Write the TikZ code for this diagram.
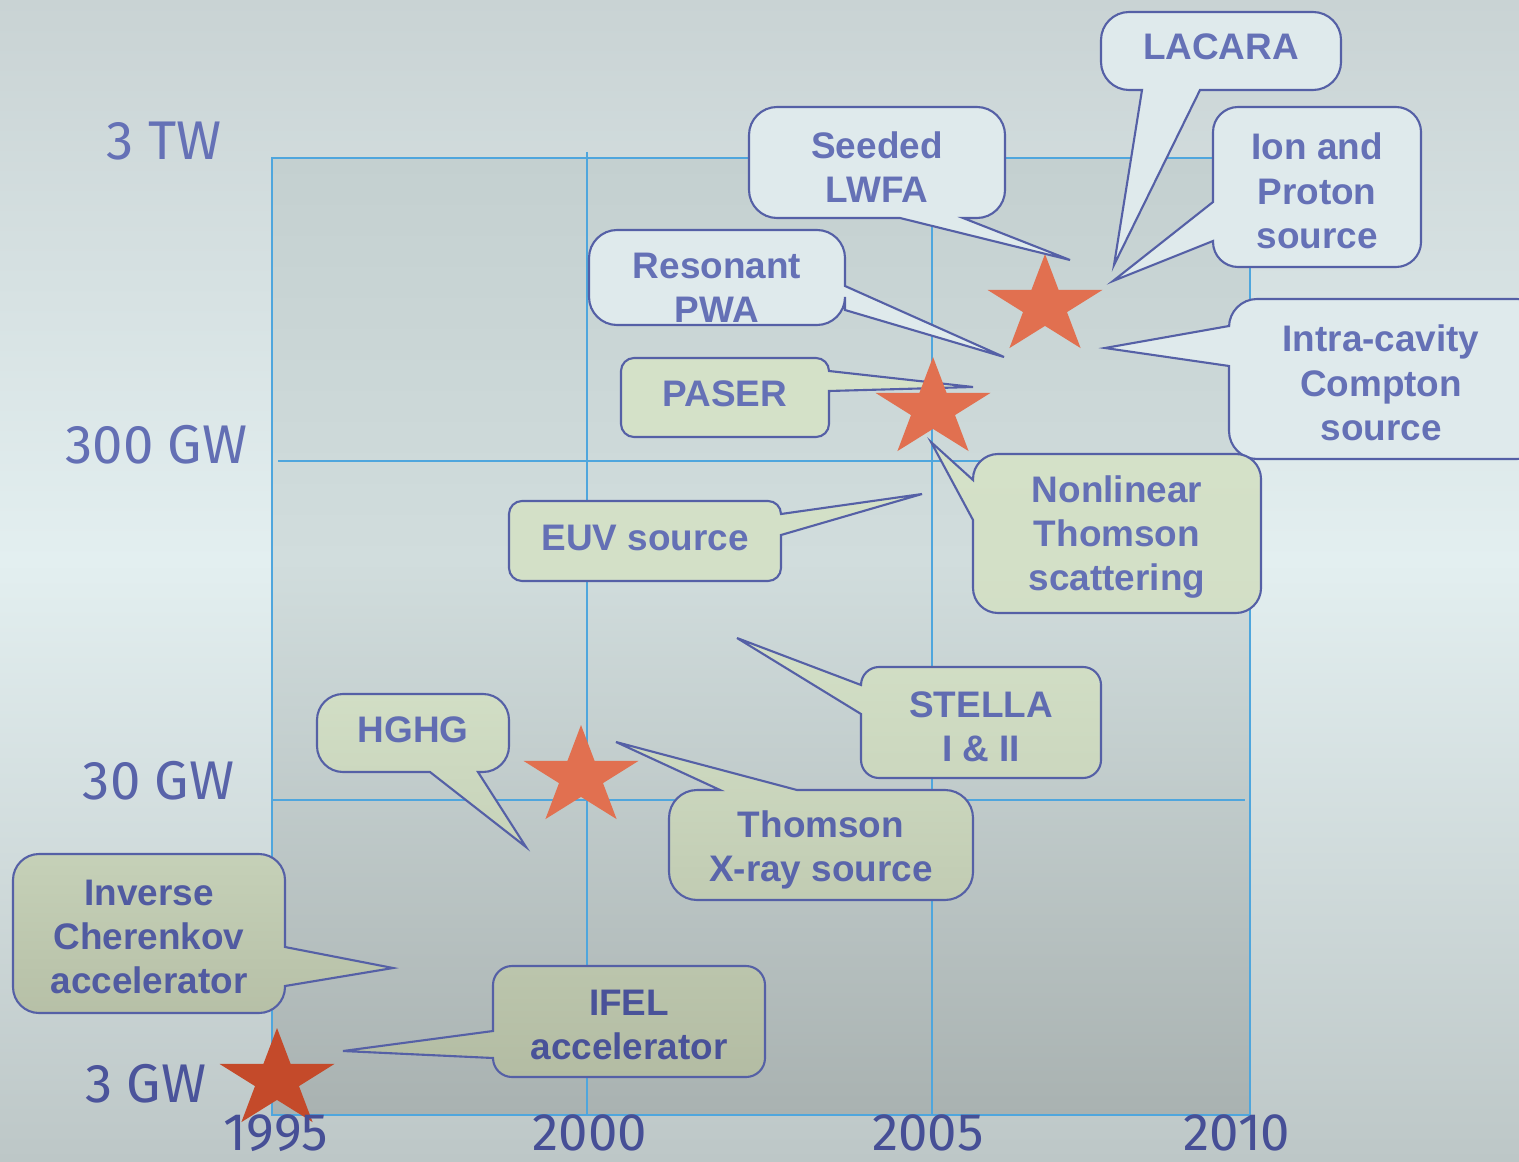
\documentclass[tikz,border=0pt]{standalone}
\usepackage{fontspec}
\setmainfont{Liberation Sans}
\newfontfamily\axisfont{Fira Sans}
\definecolor{bgtop}{HTML}{C9D3D4}
\definecolor{bgmid}{HTML}{E3EFF0}
\definecolor{bgbot}{HTML}{BDC7C7}
\definecolor{pltop}{HTML}{C4D0D0}
\definecolor{plmid}{HTML}{D1DDDD}
\definecolor{plbot}{HTML}{A9B2B1}
\definecolor{gridc}{HTML}{4FA6DD}
\definecolor{cb}{HTML}{5560A6}
\definecolor{cblue}{HTML}{DFEAEC}
\definecolor{gtop}{HTML}{D4E1C8}
\definecolor{gbot}{HTML}{B3BCA3}
\definecolor{txt}{HTML}{6571B6}
\definecolor{txb}{HTML}{464F96}
\definecolor{starc}{HTML}{E17050}
\definecolor{stard}{HTML}{C44A2A}
\def\crad{28}
\newcommand\callout[9]{%
\draw[#1] ({#2+\crad},#3) #6 -- ({#4-\crad},#3)
 .. controls ({#4-0.45*\crad},#3) and (#4,{#3+0.45*\crad}) .. (#4,{#3+\crad}) #7
 -- (#4,{#5-\crad})
 .. controls (#4,{#5-0.45*\crad}) and ({#4-0.45*\crad},#5) .. ({#4-\crad},#5) #8
 -- ({#2+\crad},#5)
 .. controls ({#2+0.45*\crad},#5) and (#2,{#5-0.45*\crad}) .. (#2,{#5-\crad}) #9
 -- (#2,{#3+\crad})
 .. controls (#2,{#3+0.45*\crad}) and ({#2+0.45*\crad},#3) .. ({#2+\crad},#3) -- cycle;}
\newcommand\starat[3]{%
\fill[#3, shift={(#1,#2)}] (0,-52) -- (13.6,-16.1) -- (57.5,-16.1) -- (22,6.1) -- (35.6,42.1)
 -- (0,19.9) -- (-35.6,42.1) -- (-22,6.1) -- (-57.5,-16.1) -- (-13.6,-16.1) -- cycle;}
\tikzset{
  bc/.style={draw=cb, line width=0.6pt, fill=cblue},
  gc/.style 2 args={draw=cb, line width=0.6pt, top color=gbot!#1!gtop, bottom color=gbot!#2!gtop},
  ct/.style={font=\bfseries\fontsize{10.5}{12.6}\selectfont, align=center, text=txb!#1!txt, inner sep=0pt},
  ax/.style={font=\axisfont\fontsize{15.5}{18}\selectfont, text=txb!#1!txt, inner sep=0pt, anchor=base east},
  yr/.style={font=\axisfont\fontsize{15}{18}\selectfont, text=txb!#1!txt, inner sep=0pt, anchor=base},
  gridl/.style={draw=gridc, line width=0.5pt}
}
\begin{document}
\begin{tikzpicture}[x=0.01cm,y=-0.01cm]
\useasboundingbox (0,0) rectangle (1519,1161);
\clip (0,0) rectangle (1519,1161);
% background
\shade[top color=bgtop, bottom color=bgmid] (0,0) rectangle (1519,561);
\shade[top color=bgmid, bottom color=bgbot] (0,560) rectangle (1519,1161);
% plot area
\shade[top color=pltop, bottom color=plmid] (272,158) rectangle (1250,561);
\shade[top color=plmid, bottom color=plbot] (272,560) rectangle (1250,1115);
\draw[gridl] (272,158) rectangle (1250,1115);
\draw[gridl] (587,152) -- (587,1115);
\draw[gridl] (932,158) -- (932,1115);
\draw[gridl] (278,461) -- (1250,461);
\draw[gridl] (272,800) -- (1245,800);
% PASER callout (below its star)
\def\crad{13}
\callout{gc={0}{1}}{621}{358}{829}{437}{}{-- (829,371) -- (973,387) -- (829,391)}{}{}
% stars
\starat{1045}{306}{starc}
\starat{933}{409}{starc}
\starat{581}{777}{starc}
\starat{277}{1080}{stard}
% blue callouts
\def\crad{28}
\callout{bc}{1101}{12}{1341}{90}{}{}{-- (1200,90) -- (1114,265) -- (1142,90)}{}
\callout{bc}{749}{107}{1005}{218}{}{}{-- (963,218) -- (1070,260) -- (900,218)}{}
\def\crad{25}
\callout{bc}{1213}{107}{1421}{267}{}{}{}{-- (1213,241) -- (1113,281) -- (1213,202)}
\def\crad{28}
\callout{bc}{589}{230}{845}{325}{}{-- (845,286) -- (1004,357) -- (845,310)}{}{}
\callout{bc}{1229}{299}{1545}{459}{}{}{}{-- (1229,366) -- (1105,348) -- (1229,326)}
% green callouts
\def\crad{25}
\callout{gc={0}{5}}{973}{454}{1261}{613}{}{}{}{-- (973,520) -- (931,442) -- (973,480)}
\def\crad{13}
\callout{gc={1}{4}}{509}{501}{781}{581}{}{-- (781,514) -- (922,494) -- (781,535)}{}{}
\def\crad{18}
\callout{gc={5}{27}}{861}{667}{1101}{778}{}{}{}{-- (861,714) -- (737,638) -- (861,685)}
\def\crad{26}
\callout{gc={8}{40}}{317}{694}{509}{772}{}{}{-- (478,772) -- (526,847) -- (430,772)}{}
\def\crad{28}
\callout{gc={20}{58}}{669}{790}{973}{900}{-- (720,790) -- (616,742) -- (797,790)}{}{}{}
\def\crad{26}
\callout{gc={44}{90}}{13}{854}{285}{1013}{}{-- (285,947) -- (393,968) -- (285,986)}{}{}
\def\crad{19}
\callout{gc={75}{100}}{493}{966}{765}{1077}{}{}{}{-- (493,1058) -- (343,1051) -- (493,1031)}
% callout texts
\node[ct=0] (tLACARA) at (1221,47) {LACARA};
\node[ct=0] (tSeeded) at (877,167) {Seeded\\LWFA};
\node[ct=0] (tIon) at (1317,191) {Ion and\\Proton\\source};
\node[ct=0] (tRes) at (717,288) {Resonant\\PWA};
\node[ct=0] (tIntra) at (1381,383) {Intra-cavity\\Compton\\source};
\node[ct=0] (tPASER) at (725,394) {PASER};
\node[ct=3] (tNonlin) at (1117,537) {Nonlinear\\Thomson\\scattering};
\node[ct=3] (tEUV) at (645,538) {EUV source};
\node[ct=15] (tSTELLA) at (981,727) {STELLA\\I \& II};
\node[ct=12] (tHGHG) at (413,730) {HGHG};
\node[ct=35] (tThomson) at (821,850) {Thomson\\X-ray source};
\node[ct=65] (tInverse) at (149,937) {Inverse\\Cherenkov\\accelerator};
\node[ct=90] (tIFEL) at (629,1025) {IFEL\\accelerator};
% axis labels
\node[ax=0] (l3TW) at (222,160) {3 TW};
\node[ax=5] (l300) at (248,463) {300 GW};
\node[ax=40] (l30) at (235,799) {30 GW};
\node[ax=85] (l3GW) at (207,1102) {3 GW};
\node[yr=100] (y1995) at (276,1150) {1995};
\node[yr=100] (y2000) at (590,1150) {2000};
\node[yr=100] (y2005) at (928,1150) {2005};
\node[yr=100] (y2010) at (1237,1150) {2010};
\end{tikzpicture}
\end{document}
